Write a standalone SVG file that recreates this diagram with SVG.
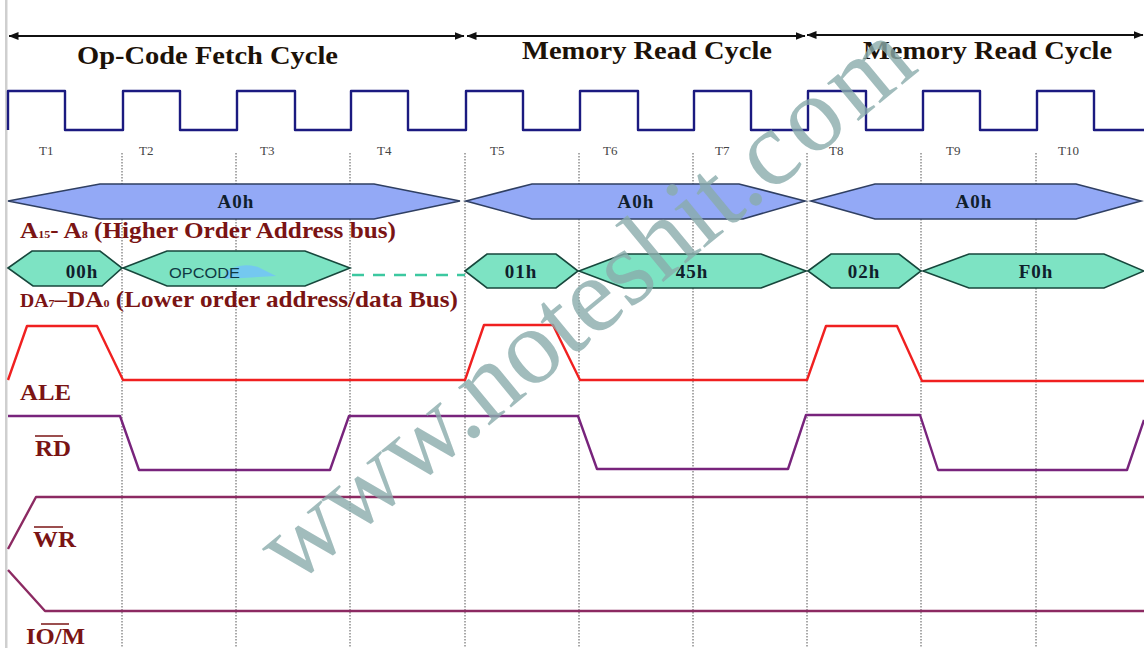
<svg xmlns="http://www.w3.org/2000/svg" width="1144" height="648" viewBox="0 0 1144 648">
<style>
text{font-family:"Liberation Serif","Times New Roman",serif}
.title{font-size:26px;font-weight:bold;fill:#1c1208}
.t{font-size:13px;fill:#444}
.bus{font-size:19px;font-weight:bold;fill:#10202c;text-anchor:middle;letter-spacing:1px}
.lbl{font-size:23px;font-weight:bold;fill:#7a1414}
.sub{font-size:11px}
.sig{fill:none;stroke-width:2.4;stroke-linejoin:round}
.guide{stroke:#555;stroke-width:1;stroke-dasharray:1.5 1.5;fill:none}
.blue{fill:#93a9f6;stroke:#2f3f62;stroke-width:1.6}
.green{fill:#7de3c3;stroke:#17473c;stroke-width:1.6}
.arrow{stroke:#111;stroke-width:2;fill:none;marker-start:url(#ah);marker-end:url(#ah)}
.bar{stroke:#7a1414;stroke-width:1.5;fill:none}
</style>
<defs>
<marker id="ah" viewBox="0 0 10 8" refX="9.5" refY="4" markerWidth="10" markerHeight="8" markerUnits="userSpaceOnUse" orient="auto-start-reverse"><path d="M0 0L10 4L0 8Z" fill="#111"/></marker>
</defs>
<rect width="1144" height="648" fill="#fff"/>
<rect id="edge" x="5" y="0" width="2.5" height="648" fill="#cfcfcf"/>
<g id="guides">
<path class="guide" d="M122 153V648M236 153V648M350 153V648M465 153V648M579 153V648M693 153V648M807 153V648M921 153V648M1036 153V648"/>
</g>
<g id="connectors">
<path class="arrow" d="M9 36H464"/>
<path class="arrow" d="M467 36H805"/>
<path class="arrow" d="M807 35H1143"/>
<path class="sig" stroke="#1b1a80" d="M8 130V91H65V130H123V91H180V130H237V91H295V130H351V91H408V130H466V91H523V130H580V91H638V130H694V91H751V130H808V91H866V130H923V91H980V130H1037V91H1094V130H1144"/>
<path d="M352 275H465" stroke="#3cc8a0" stroke-width="2.6" stroke-dasharray="12 9" fill="none"/>
<path class="sig" stroke="#f02020" d="M8 380L27 326H97L123 380H465L484 325H553L580 380H807L826 326H897L922 381H1144"/>
<path class="sig" stroke="#78247c" d="M8 416H120L139 470H330L349 416H578L597 469H788L806 415H920L938 470H1127L1144 420"/>
<path class="sig" stroke="#8c2a62" d="M8 549L36 497H1144"/>
<path class="sig" stroke="#8c2a62" d="M8 570L45 611H1144"/>
</g>
<g id="cycle-labels">
<text class="title" x="77" y="64" textLength="261" lengthAdjust="spacingAndGlyphs">Op-Code Fetch Cycle</text>
<text class="title" x="522" y="59" textLength="250" lengthAdjust="spacingAndGlyphs">Memory Read Cycle</text>
<text class="title" x="863" y="59" textLength="249" lengthAdjust="spacingAndGlyphs">Memory Read Cycle</text>
</g>
<g id="t-states">
<text class="t" x="39" y="155">T1</text><text class="t" x="139" y="155">T2</text><text class="t" x="260" y="155">T3</text><text class="t" x="377" y="155">T4</text><text class="t" x="490" y="155">T5</text><text class="t" x="603" y="155">T6</text><text class="t" x="715" y="155">T7</text><text class="t" x="829" y="155">T8</text><text class="t" x="946" y="155">T9</text><text class="t" x="1058" y="155">T10</text>
</g>
<g id="addr-bus-1"><polygon class="blue" points="8,201 100,184 374,184 460,201 374,219 100,219"/><text class="bus" x="236" y="208">A0h</text></g>
<g id="addr-bus-2"><polygon class="blue" points="466,201 532,184 739,184 805,201 743,219 532,219"/><text class="bus" x="636" y="208">A0h</text></g>
<g id="addr-bus-3"><polygon class="blue" points="811,201 875,184 1076,184 1141,201 1076,219 875,219"/><text class="bus" x="974" y="208">A0h</text></g>
<g id="data-00h"><polygon class="green" points="8,268 32,251 100,251 122,268 102,286 33,286"/><text class="bus" x="82" y="278">00h</text></g>
<g id="data-opcode"><polygon class="green" points="123,268 167,251 305,251 350,268 305,286 167,286"/><path d="M225 272Q240 262 258 267L276 276L225 279Z" fill="#74c8f0"/><text x="169" y="278" font-size="14" fill="#0f3a44" textLength="71" lengthAdjust="spacingAndGlyphs" style="font-family:'Liberation Sans',Arial,sans-serif">OPCODE</text></g>
<g id="data-01h"><polygon class="green" points="465,271 487,254 556,254 578,271 556,288 487,288"/><text class="bus" x="521" y="278">01h</text></g>
<g id="data-45h"><polygon class="green" points="579,271 624,254 761,254 806,271 761,288 624,288"/><text class="bus" x="692" y="278">45h</text></g>
<g id="data-02h"><polygon class="green" points="808,271 831,254 899,254 921,271 899,288 831,288"/><text class="bus" x="864" y="278">02h</text></g>
<g id="data-f0h"><polygon class="green" points="923,271 969,254 1104,254 1144,271 1104,288 969,288"/><text class="bus" x="1036" y="278">F0h</text></g>
<g id="signal-labels">
<text class="lbl" x="20" y="238" textLength="376" lengthAdjust="spacingAndGlyphs">A<tspan class="sub">15</tspan>- A<tspan class="sub">8</tspan> (Higher Order Address bus)</text>
<text class="lbl" x="20" y="307" textLength="438" lengthAdjust="spacingAndGlyphs"><tspan font-size="18">DA</tspan><tspan class="sub">7</tspan>–<tspan font-size="23">DA</tspan><tspan class="sub">0</tspan> (Lower order address/data Bus)</text>
<text class="lbl" x="20" y="400" textLength="51" lengthAdjust="spacingAndGlyphs">ALE</text>
<text class="lbl" x="35" y="456" textLength="36" lengthAdjust="spacingAndGlyphs">RD</text><path class="bar" d="M35 436H63"/>
<text class="lbl" x="33" y="547" textLength="43" lengthAdjust="spacingAndGlyphs">WR</text><path class="bar" d="M34 527H63"/>
<text class="lbl" x="26" y="644" textLength="59" lengthAdjust="spacingAndGlyphs">IO/M</text><path class="bar" d="M41 624H69"/>
</g>
<g id="watermark"><text x="293" y="587" font-size="107" fill="#8aabab" fill-opacity=".8" transform="rotate(-39.5 293 587)" style="font-family:'Liberation Serif',serif">www.noteshit.<tspan letter-spacing="6">com</tspan></text></g>
</svg>
